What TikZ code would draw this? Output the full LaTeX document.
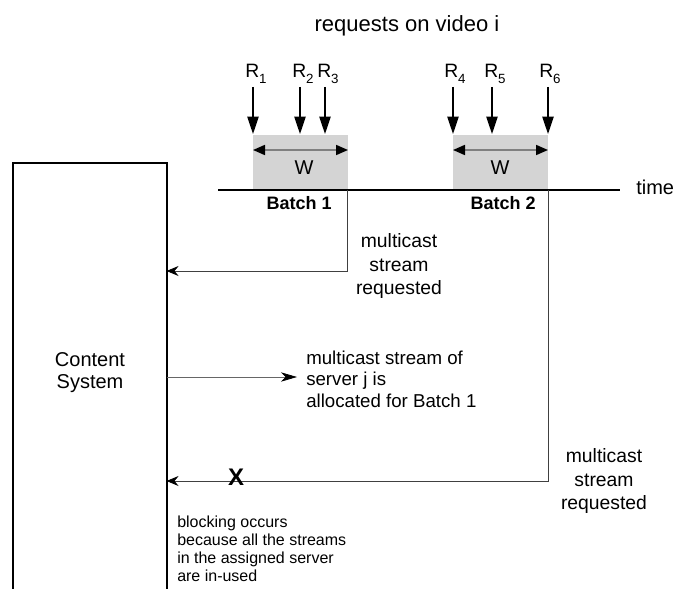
\documentclass[tikz,border=0pt]{standalone}
\usepackage{fontspec}
\setmainfont{Liberation Sans}
\usetikzlibrary{arrows.meta}
\newcommand{\Rlab}[1]{R\raisebox{-0.5ex}{\fontsize{10}{10}\selectfont #1}}
\begin{document}
\begin{tikzpicture}[x=0.75pt,y=-0.75pt,
  lab/.style={inner sep=0pt, font=\fontsize{14.5}{17.3}\selectfont},
  rlab/.style={inner sep=0pt, font=\fontsize{14.5}{16}\selectfont},
  reqarrow/.style={line width=1pt, -{Triangle[length=13pt,width=8.5pt]}},
  warrow/.style={line width=1.3pt, draw=black!50,
     {Triangle[length=9pt,width=7.5pt,color=black]}-{Triangle[length=9pt,width=7.5pt,color=black]}},
  conn/.style={line width=0.6pt, draw=black!75,
     -{Stealth[length=9pt,width=7.5pt,inset=3pt,color=black]}},
  conntwo/.style={line width=0.6pt, draw=black!60,
     -{Stealth[length=12pt,width=7pt,inset=3.5pt,color=black]}},
  batchfill/.style={fill=black!17, draw=none, inner sep=0pt,
     minimum width=71.25pt, minimum height=40.5pt, anchor=north west},
  heavy/.style={line width=1.5pt}
]
\useasboundingbox (0,0) rectangle (684,588);

% title
\node[inner sep=0pt, font=\fontsize{16.5}{20}\selectfont, anchor=base] (title) at (407,32) {requests on video i};

% batch windows
\node[batchfill] (B1) at (253,135) {};
\node[batchfill] (B2) at (453,135) {};

% request labels and arrows
\node[rlab, anchor=base west] (R1) at (245,78) {\Rlab{1}};
\node[rlab, anchor=base west] (R2) at (292,78) {\Rlab{2}};
\node[rlab, anchor=base west] (R3) at (317,78) {\Rlab{3}};
\node[rlab, anchor=base west] (R4) at (444,78) {\Rlab{4}};
\node[rlab, anchor=base west] (R5) at (484,78) {\Rlab{5}};
\node[rlab, anchor=base west] (R6) at (539,78) {\Rlab{6}};
\foreach \n/\x in {1/253,2/300,3/325,4/453,5/492,6/548}{
  \coordinate (r\n t) at (\x,87);
  \coordinate (r\n b) at (\x,134);
  \draw[reqarrow] (r\n t) -- (r\n b);
}

% window arrows
\coordinate (w1a) at (253,150); \coordinate (w1b) at (348,150);
\coordinate (w2a) at (453,150); \coordinate (w2b) at (548,150);
\draw[warrow] (w1a) -- (w1b);
\draw[warrow] (w2a) -- (w2b);
\node[lab, font=\fontsize{15}{17}\selectfont] (W1) at (304,168) {W};
\node[lab, font=\fontsize{15}{17}\selectfont] (W2) at (500,168) {W};

% time axis
\coordinate (t0) at (218,190); \coordinate (t1) at (620,190);
\draw[heavy] (t0) -- (t1);
\node[lab, font=\fontsize{15}{17}\selectfont, anchor=west] (time) at (636,187) {time};

\node[inner sep=0pt, font=\bfseries\fontsize{13.5}{16}\selectfont, anchor=base east] (bt1) at (332,209) {Batch 1};
\node[inner sep=0pt, font=\bfseries\fontsize{13.5}{16}\selectfont, anchor=base east] (bt2) at (536,209) {Batch 2};

% content system box (open at the bottom)
\node[inner sep=0pt, minimum width=114.75pt, minimum height=318.75pt, anchor=north west] (cs) at (13,163) {};
\draw[heavy] (cs.south west) -- (cs.north west) -- (cs.north east) -- (cs.south east);
\node[lab, font=\fontsize{15}{16.5}\selectfont, align=center] (cst) at (90,373) {Content\\System};

% batch 1 request
\coordinate (d1) at (347,190); \coordinate (e1) at (347,271);
\draw[conn] (d1) -- (e1) -- (e1 -| cs.east);
\node[lab, align=center] (m1) at (399,266) {multicast\\stream\\requested};

% allocation
\coordinate (mB) at (297,377);
\draw[conntwo] (cs.east |- mB) -- (mB);
\node[lab, align=left, anchor=west, font=\fontsize{14}{16}\selectfont] (m2) at (306,379) {multicast stream of\\server j is\\allocated for Batch 1};

% batch 2 request (blocked)
\coordinate (d2) at (548,190); \coordinate (e2) at (548,481);
\draw[conn] (d2) -- (e2) -- (e2 -| cs.east);
\node[inner sep=0pt, font=\bfseries\fontsize{18}{20}\selectfont] (X) at (236,477) {X};
\node[lab, align=center] (m3) at (604,481) {multicast\\stream\\requested};
\node[inner sep=0pt, align=left, anchor=west, font=\fontsize{12}{13.5}\selectfont] (blk) at (177,549) {blocking occurs\\because all the streams\\in the assigned server\\are in-used};
\end{tikzpicture}
\end{document}
